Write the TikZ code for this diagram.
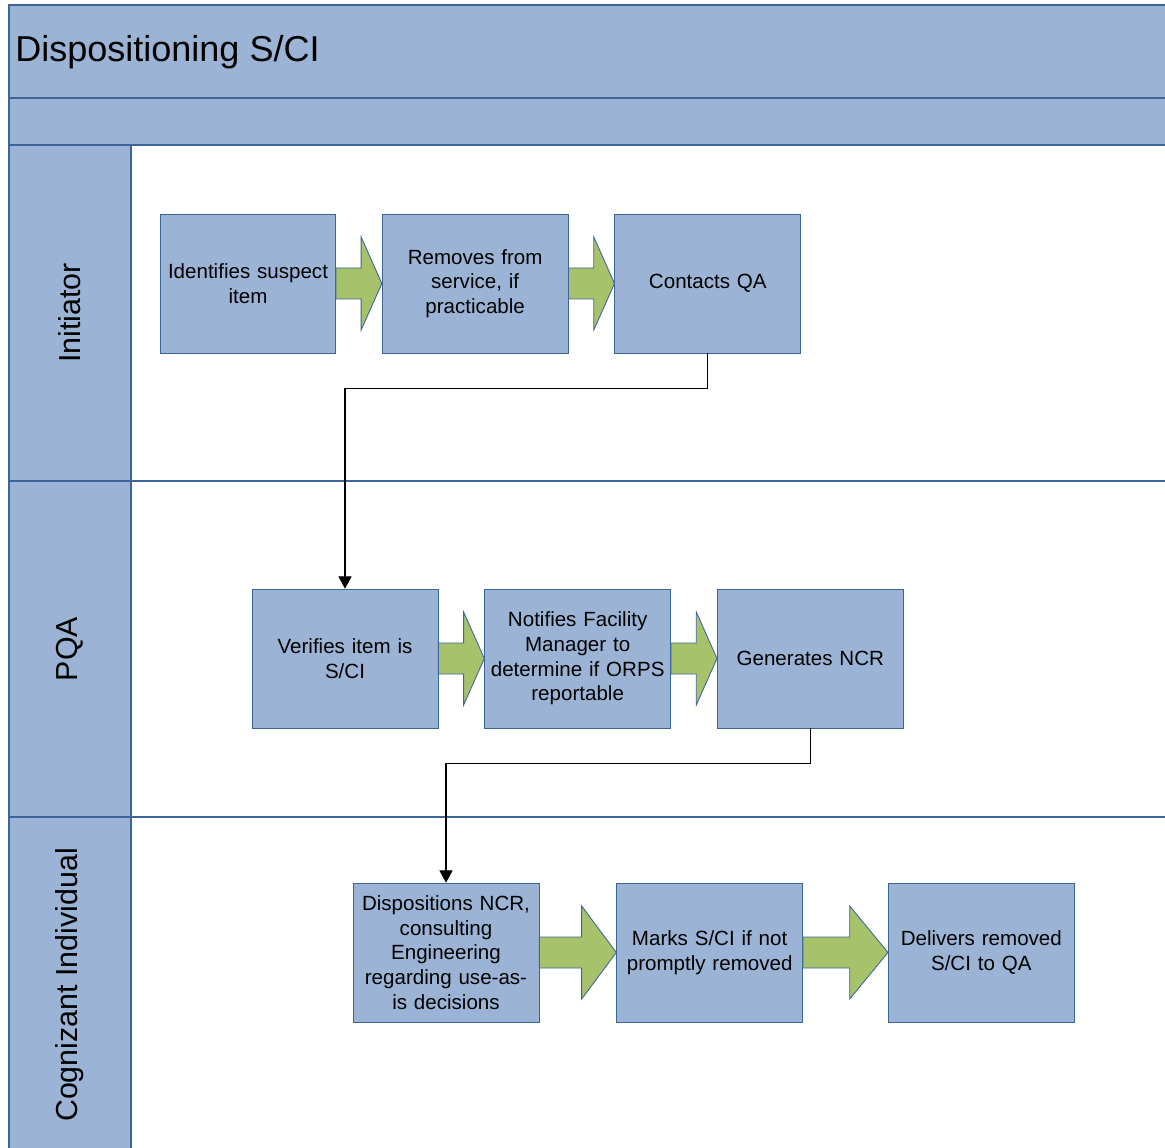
\documentclass[tikz,border=0pt]{standalone}
\usepackage{fontspec}
\setmainfont{Liberation Sans}
\usepackage{xcolor}
\usepackage{tikz}
\usetikzlibrary{positioning,calc,arrows.meta}
\definecolor{laneblue}{HTML}{9BB3D4}
\definecolor{laneline}{HTML}{3E6598}
\definecolor{flowgreen}{HTML}{A6C26A}
\tikzstyle{band} = [fill=laneblue, draw=laneline, line width=0.7pt]
\tikzstyle{lane} = [draw=laneline, line width=0.7pt]
\tikzstyle{task} = [rectangle, minimum width=3.72cm, minimum height=2.78cm, text width=3.5cm, align=center, inner sep=0pt, draw=laneline, fill=laneblue, font=\fontsize{11.7}{14}\selectfont]
\tikzstyle{lanelabel} = [rotate=90, inner sep=0pt, font=\fontsize{17.3}{20}\selectfont]
\tikzstyle{arrow} = [draw=black, line width=0.6pt, -{Triangle[width=7.5pt,length=7pt]}]
\tikzstyle{bigarrow} = [fill=flowgreen, draw=laneline, line width=0.5pt]
\newcommand{\bigarrow}[2]{%
  \draw[bigarrow] ($(#1.east)+(0,15.5)$) -- ($(#1.east)!0.55!(#2.west)+(0,15.5)$) -- ($(#1.east)!0.55!(#2.west)+(0,46.5)$) -- (#2.west)
    -- ($(#1.east)!0.55!(#2.west)+(0,-46.5)$) -- ($(#1.east)!0.55!(#2.west)+(0,-15.5)$) -- ($(#1.east)+(0,-15.5)$) -- cycle;}

\begin{document}
\begin{tikzpicture}[x=0.02cm, y=-0.02cm]

	\useasboundingbox (0,0) rectangle (1165,1148);
	\fill[white] (0,0) rectangle (1165,1148);

	\draw[band] (9,5) rectangle (1180,98);
	\draw[band] (9,98) rectangle (1180,145);
	\draw[lane] (9,145) rectangle (1180,481);
	\draw[lane] (9,481) rectangle (1180,817);
	\draw[lane] (9,817) rectangle (1180,1160);
	\draw[band] (9,145) rectangle (131,481);
	\draw[band] (9,481) rectangle (131,817);
	\draw[band] (9,817) rectangle (131,1160);

	\node (title) [anchor=west, inner sep=0pt, font=\fontsize{20.5}{24}\selectfont] at (15,52) {Dispositioning S/CI};
	\node (initiator) [lanelabel] at (70,313) {Initiator};
	\node (pqa) [lanelabel] at (70,649) {PQA};
	\node (cognizant) [lanelabel] at (70,985) {Cognizant Individual};

	\node (identify) [task, minimum width=3.48cm] at (248,283.5) {Identifies suspect\\item};
	\node (remove) [task, right=0.92cm of identify] {Removes from\\service, if\\practicable};
	\node (contact) [task, right=0.92cm of remove] {Contacts QA};

	\node (verify) [task] at (345,658.5) {Verifies item is\\S/CI};
	\node (notify) [task, right=0.92cm of verify] {Notifies Facility\\Manager to\\determine if ORPS\\reportable};
	\node (ncr) [task, right=0.92cm of notify] {Generates NCR};

	\node (dispose) [task] at (446,952.5) {Dispositions NCR,\\consulting\\Engineering\\regarding use-as-\\is decisions};
	\node (mark) [task, right=1.54cm of dispose] {Marks S/CI if not\\promptly removed};
	\node (deliver) [task, right=1.7cm of mark] {Delivers removed\\S/CI to QA};

	\bigarrow{identify}{remove}
	\bigarrow{remove}{contact}
	\bigarrow{verify}{notify}
	\bigarrow{notify}{ncr}
	\bigarrow{dispose}{mark}
	\bigarrow{mark}{deliver}

	\draw [arrow] (contact.south) -- ++(0,35) -| (verify.north);
	\draw [arrow] (ncr.south) -- ++(0,35) -| (dispose.north);

\end{tikzpicture}
\end{document}
